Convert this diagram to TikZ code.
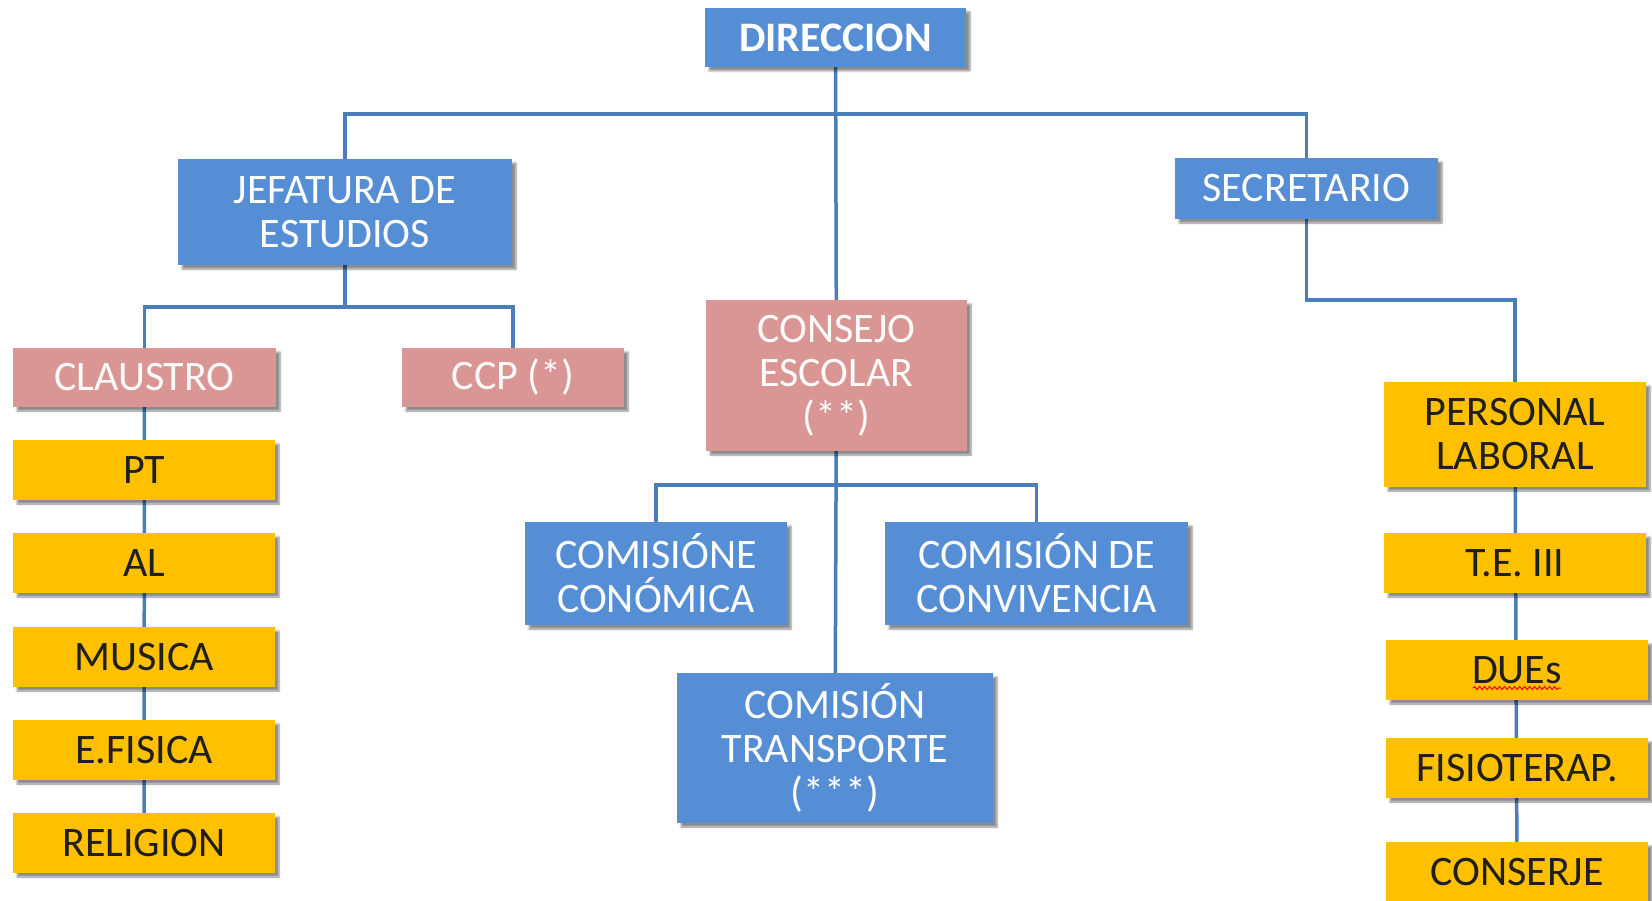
\documentclass[tikz,border=0pt]{standalone}
\usepackage{fontspec}
\setmainfont{Carlito}
\usetikzlibrary{shapes,calc,shadows.blur,backgrounds,decorations.pathmorphing}
\definecolor{boxblue}{RGB}{85,142,213}
\definecolor{boxpink}{RGB}{217,150,148}
\definecolor{boxyellow}{RGB}{255,192,0}
\definecolor{linkblue}{RGB}{74,126,187}
\begin{document}
\begin{tikzpicture}[x=1pt,y=-1pt,
  box/.style={rectangle,inner sep=0pt,align=center,font=\fontsize{42}{44}\selectfont,
    blur shadow={shadow xshift=4pt,shadow yshift=-4pt,shadow blur steps=6,shadow opacity=45}},
  bluebox/.style={box,fill=boxblue,text=white},
  pinkbox/.style={box,fill=boxpink,text=white!95!boxpink},
  yellowbox/.style={box,fill=boxyellow,text=black!88,minimum width=262pt,minimum height=60pt},
  link/.style={draw=linkblue,line width=3.5pt}]
\useasboundingbox (0,0) rectangle (1652,901);

\node[bluebox,minimum width=261pt,minimum height=59pt] (dir) at (835.5,37.5) {\bfseries DIRECCION};
\node[bluebox,minimum width=334pt,minimum height=106pt] (jef) at (345,212) {JEFATURA DE\\ESTUDIOS};
\node[bluebox,minimum width=263pt,minimum height=61pt] (sec) at (1306.5,188.5) {SECRETARIO};
\node[pinkbox,minimum width=261pt,minimum height=151pt] (cons) at (836.5,375.5) {CONSEJO\\ESCOLAR\\(**)};
\node[pinkbox,minimum width=263pt,minimum height=59pt] (cla) at (144.5,377.5) {CLAUSTRO};
\node[pinkbox,minimum width=222pt,minimum height=59pt] (ccp) at (513,377.5) {CCP (*)};

\node[yellowbox] (pt) at (144,470) {PT};
\node[yellowbox] (al) at (144,563) {AL};
\node[yellowbox] (mus) at (144,657) {MUSICA};
\node[yellowbox] (efi) at (144,750) {E.FISICA};
\node[yellowbox] (rel) at (144,843) {RELIGION};

\node[bluebox,minimum width=262pt,minimum height=103pt] (eco) at (656,573.5) {COMISIÓNE\\CONÓMICA};
\node[bluebox,minimum width=303pt,minimum height=103pt] (conv) at (1036.5,573.5) {COMISIÓN DE\\CONVIVENCIA};
\node[bluebox,minimum width=316pt,minimum height=150pt] (tra) at (835,748) {COMISIÓN\\TRANSPORTE\\(***)};

\node[yellowbox,minimum height=105pt] (per) at (1515,434.5) {PERSONAL\\LABORAL};
\node[yellowbox] (te) at (1515,563) {T.E. III};
\node[yellowbox] (due) at (1517,670) {DUEs};
\node[yellowbox] (fis) at (1517,768) {FISIOTERAP.};
\node[yellowbox] (con) at (1517,872) {CONSERJE};
\draw[red,line width=1pt,decorate,decoration={snake,amplitude=1.5pt,segment length=5pt}]
  ($(due.center)+(-44,18)$) -- ($(due.center)+(44,18)$);

\coordinate (topfork) at (835,114);
\coordinate (jeffork) at (345,307);
\coordinate (secfork) at (1515,300);
\coordinate (consfork) at (836,485);
\begin{pgfonlayer}{background}
\draw[link] (dir) -- (cons);
\draw[link] (jef.north) |- (topfork) -| (sec.north);
\draw[link] (jef) -- (jeffork);
\draw[link] (cla.north) |- (jeffork) -| (ccp.north);
\draw[link] (cla) -- (rel);
\draw[link] (sec.south) |- (secfork) -- (per.north);
\draw[link] (per) -- (con);
\draw[link] (eco.north) |- (consfork) -| (conv.north);
\draw[link] (cons) -- (tra);
\end{pgfonlayer}
\end{tikzpicture}
\end{document}
